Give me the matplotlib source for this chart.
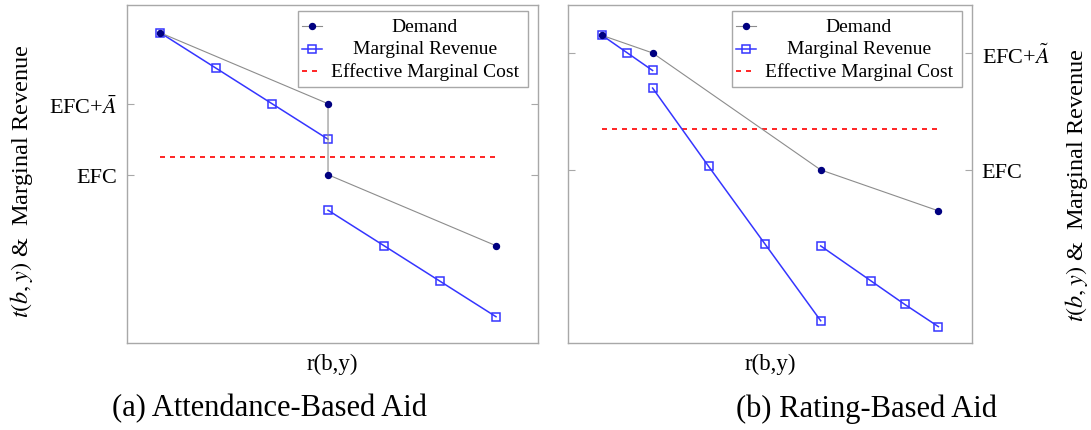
import matplotlib
matplotlib.use("Agg")
import matplotlib.pyplot as plt
from matplotlib.lines import Line2D
from matplotlib.patches import Rectangle

plt.rcParams['font.family'] = ['Liberation Serif', 'DejaVu Serif']
plt.rcParams['mathtext.fontset'] = 'stix'

# (a) attendance-based aid
a_demand_x = [0, 3, 3, 6]
a_demand_y = [2, 1, 0, -1]
a_mr1_x = [0, 1, 2, 3]
a_mr1_y = [2, 1.5, 1, 0.5]
a_mr2_x = [3, 4, 5, 6]
a_mr2_y = [-0.5, -1, -1.5, -2]
a_cost = 0.25
a_ticks = [0, 1]
a_ticklabels = ['EFC', r'EFC+$\bar{A}$']

# (b) rating-based aid
b_demand_x = [0, 0.9, 3.9, 6]
b_demand_y = [1.15, 1.0, 0, -0.35]
b_mr1_x = [0, 0.45, 0.9]
b_mr1_y = [1.15, 1.0, 0.85]
b_mr2_x = [0.9, 1.9, 2.9, 3.9]
b_mr2_y = [0.7, 0.03, -0.63, -1.29]
b_mr3_x = [3.9, 4.8, 5.4, 6]
b_mr3_y = [-0.65, -0.95, -1.15, -1.34]
b_cost = 0.35
b_ticks = [0, 1]
b_ticklabels = ['EFC', r'EFC+$\tilde{A}$']

labels = ['Demand', 'Marginal Revenue', 'Effective Marginal Cost']

GRAY = '#a8a8a8'
DEM_LINE = '#8c8c8c'
DEM_MK = '#000080'
MR_COL = '#3535ff'

W, H = 1091, 431
fig = plt.figure(figsize=(W / 100, H / 100), dpi=100)


def make_axes(x0, x1, y0, y1):
    return fig.add_axes([x0 / W, 1 - y1 / H, (x1 - x0) / W, (y1 - y0) / H])


def plot_demand(ax, x, y):
    ax.plot(x, y, color=DEM_LINE, lw=0.8, marker='o', ms=4.3,
            mfc=DEM_MK, mec=DEM_MK, zorder=4)


def plot_mr(ax, x, y):
    ax.plot(x, y, color=MR_COL, lw=1.1, marker='s', ms=6,
            mfc='none', mec=MR_COL, mew=1.1, zorder=3)


def style(ax, ticks, ticklabels, right=False):
    ax.set_xticks([])
    ax.set_yticks(ticks)
    ax.set_yticklabels(ticklabels)
    ax.tick_params(axis='y', direction='in', left=True, right=True,
                   length=5, color=GRAY, labelsize=16, pad=7,
                   labelleft=not right, labelright=right)
    for s in ax.spines.values():
        s.set_color(GRAY)
        s.set_linewidth(1.0)
    ax.set_xlabel('r(b,y)', fontsize=16.5, labelpad=7)


def add_legend(ax):
    bb = ax.get_position()
    aw, ah = bb.width * W, bb.height * H
    fx = lambda px: 1 - px / aw
    fy = lambda py: 1 - py / ah
    ax.add_patch(Rectangle((fx(240), fy(82)), 230 / aw, 76 / ah,
                           transform=ax.transAxes, facecolor='white',
                           edgecolor=GRAY, lw=1.0, zorder=6))
    rows = [21, 44, 66]
    lines = [dict(color=DEM_LINE, lw=0.8),
             dict(color=MR_COL, lw=1.1),
             dict(color='red', lw=1.2, ls=(0, (3, 3)))]
    marks = [dict(marker='o', ms=4.3, mfc=DEM_MK, mec=DEM_MK),
             dict(marker='s', ms=6, mfc='none', mec=MR_COL, mew=1.1),
             None]
    for r, lab, ln, mk in zip(rows, labels, lines, marks):
        ax.add_line(Line2D([fx(236), fx(216)], [fy(r), fy(r)],
                           transform=ax.transAxes, zorder=7, **ln))
        if mk:
            ax.add_line(Line2D([fx(226)], [fy(r)], transform=ax.transAxes,
                               zorder=8, ls='none', **mk))
        ax.text(fx(113), fy(r), lab, transform=ax.transAxes, ha='center',
                va='center', fontsize=14, zorder=8)


# panel (a)
ax1 = make_axes(127, 538, 6, 344)
ax1.hlines(a_cost, 0, 6, colors='red', lw=1.2, linestyles=(0, (3, 3)), zorder=2)
plot_mr(ax1, a_mr1_x, a_mr1_y)
plot_mr(ax1, a_mr2_x, a_mr2_y)
plot_demand(ax1, a_demand_x, a_demand_y)
ax1.set_xlim(-0.59, 6.75)
ax1.set_ylim(-2.37, 2.39)
style(ax1, a_ticks, a_ticklabels)
add_legend(ax1)

# panel (b)
ax2 = make_axes(568, 972, 6, 344)
ax2.hlines(b_cost, 0, 6, colors='red', lw=1.2, linestyles=(0, (3, 3)), zorder=2)
plot_mr(ax2, b_mr1_x, b_mr1_y)
plot_mr(ax2, b_mr2_x, b_mr2_y)
plot_mr(ax2, b_mr3_x, b_mr3_y)
plot_demand(ax2, b_demand_x, b_demand_y)
ax2.set_xlim(-0.61, 6.6)
ax2.set_ylim(-1.48, 1.41)
style(ax2, b_ticks, b_ticklabels, right=True)
add_legend(ax2)

ylab = r'$t(b,y)$ &  Marginal Revenue'
fig.text(22 / W, 1 - 181 / H, ylab, rotation=90, ha='center', va='center', fontsize=17.5)
fig.text(1076 / W, 1 - 185 / H, ylab, rotation=90, ha='center', va='center', fontsize=17.5)

fig.text(270 / W, 1 - 409 / H, '(a) Attendance-Based Aid', ha='center', va='center', fontsize=22)
fig.text(866 / W, 1 - 409 / H, '(b) Rating-Based Aid', ha='center', va='center', fontsize=22)

fig.savefig('out.png', dpi=100)
